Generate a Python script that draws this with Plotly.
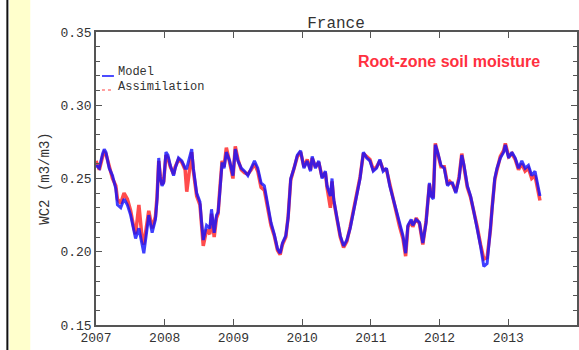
import plotly.graph_objects as go

# decimal-year time axis
t = [2007.000, 2007.048, 2007.096, 2007.120, 2007.144, 2007.192, 2007.240, 2007.288, 2007.312, 2007.360,
     2007.408, 2007.456, 2007.504, 2007.552, 2007.576, 2007.624, 2007.672, 2007.696, 2007.744, 2007.768,
     2007.817, 2007.865, 2007.889, 2007.913, 2007.937, 2007.961, 2007.985, 2008.018, 2008.047, 2008.081,
     2008.129, 2008.153, 2008.201, 2008.249, 2008.297,
     2008.321, 2008.393, 2008.417, 2008.465, 2008.513, 2008.537, 2008.561, 2008.609, 2008.657, 2008.681,
     2008.720, 2008.753, 2008.777, 2008.801, 2008.835, 2008.864, 2008.897, 2008.945, 2008.993, 2009.027,
     2009.066, 2009.114, 2009.162, 2009.210, 2009.258, 2009.306, 2009.354, 2009.402, 2009.450, 2009.498,
     2009.546,
     2009.594, 2009.642, 2009.680, 2009.714, 2009.762, 2009.796, 2009.834, 2009.882, 2009.930, 2009.978,
     2010.026, 2010.074, 2010.122, 2010.146, 2010.194, 2010.242, 2010.290, 2010.338, 2010.362, 2010.411,
     2010.435, 2010.459, 2010.507, 2010.555, 2010.603, 2010.651, 2010.699, 2010.747, 2010.795, 2010.843,
     2010.891,
     2010.939, 2010.987, 2011.035, 2011.083, 2011.131, 2011.179, 2011.227, 2011.275, 2011.323, 2011.371,
     2011.419, 2011.467, 2011.506, 2011.539, 2011.587, 2011.611, 2011.659, 2011.708, 2011.756, 2011.804,
     2011.852, 2011.876, 2011.909, 2011.938, 2011.972, 2012.020, 2012.068, 2012.116, 2012.149, 2012.188,
     2012.236, 2012.284, 2012.323, 2012.356, 2012.404, 2012.452, 2012.500, 2012.548, 2012.596, 2012.644,
     2012.692, 2012.740, 2012.764, 2012.803, 2012.836, 2012.884, 2012.932, 2012.957, 2013.005, 2013.053,
     2013.101, 2013.149, 2013.197, 2013.245, 2013.293, 2013.341, 2013.389, 2013.428, 2013.461]

model = [0.259, 0.257, 0.267, 0.270, 0.268, 0.257, 0.252, 0.243, 0.232, 0.230,
         0.236, 0.232, 0.225, 0.213, 0.209, 0.216, 0.204, 0.199, 0.216, 0.225,
         0.213, 0.222, 0.236, 0.264, 0.250, 0.245, 0.247, 0.268, 0.266, 0.259,
         0.252, 0.257, 0.264, 0.262, 0.257,
         0.257, 0.270, 0.257, 0.240, 0.234, 0.220, 0.208, 0.218, 0.216, 0.229,
         0.213, 0.225, 0.227, 0.240, 0.261, 0.257, 0.268, 0.262, 0.252, 0.270,
         0.262, 0.257, 0.255, 0.252, 0.257, 0.262, 0.257, 0.247, 0.245, 0.232,
         0.220,
         0.212, 0.202, 0.199, 0.206, 0.211, 0.223, 0.250, 0.257, 0.266, 0.269,
         0.257, 0.262, 0.255, 0.265, 0.257, 0.262, 0.250, 0.255, 0.245, 0.238,
         0.250, 0.236, 0.223, 0.211, 0.204, 0.208, 0.216, 0.227, 0.240, 0.250,
         0.268,
         0.264, 0.262, 0.255, 0.257, 0.263, 0.255, 0.257, 0.245, 0.236, 0.227,
         0.218, 0.211, 0.199, 0.218, 0.222, 0.218, 0.222, 0.220, 0.206, 0.220,
         0.247, 0.238, 0.236, 0.273, 0.268, 0.259, 0.257, 0.245, 0.247, 0.247,
         0.240, 0.250, 0.266, 0.259, 0.245, 0.238, 0.227, 0.216, 0.204, 0.190,
         0.192, 0.216, 0.229, 0.250, 0.257, 0.264, 0.268, 0.273, 0.264, 0.268,
         0.264, 0.257, 0.262, 0.257, 0.259, 0.252, 0.255, 0.245, 0.238]

assimilation = [0.262, 0.256, 0.265, 0.268, 0.267, 0.258, 0.250, 0.245, 0.236, 0.233,
                0.240, 0.236, 0.228, 0.216, 0.212, 0.232, 0.209, 0.205, 0.218, 0.228,
                0.216, 0.224, 0.238, 0.262, 0.251, 0.246, 0.248, 0.266, 0.264, 0.258,
                0.253, 0.258, 0.263, 0.261, 0.256,
                0.241, 0.268, 0.255, 0.238, 0.232, 0.218, 0.204, 0.215, 0.212, 0.226,
                0.210, 0.223, 0.226, 0.242, 0.262, 0.258, 0.271, 0.261, 0.250, 0.272,
                0.263, 0.256, 0.254, 0.253, 0.256, 0.260, 0.255, 0.244, 0.242, 0.230,
                0.218,
                0.211, 0.201, 0.198, 0.205, 0.210, 0.224, 0.249, 0.258, 0.265, 0.268,
                0.258, 0.263, 0.256, 0.264, 0.258, 0.261, 0.251, 0.254, 0.244, 0.230,
                0.248, 0.235, 0.222, 0.210, 0.203, 0.207, 0.217, 0.228, 0.241, 0.251,
                0.267,
                0.265, 0.263, 0.256, 0.258, 0.262, 0.256, 0.256, 0.246, 0.237, 0.226,
                0.217, 0.209, 0.197, 0.217, 0.221, 0.217, 0.223, 0.219, 0.205, 0.221,
                0.246, 0.239, 0.237, 0.274, 0.267, 0.258, 0.258, 0.246, 0.248, 0.246,
                0.241, 0.251, 0.267, 0.258, 0.244, 0.237, 0.228, 0.217, 0.205, 0.195,
                0.196, 0.215, 0.230, 0.249, 0.256, 0.265, 0.269, 0.274, 0.265, 0.267,
                0.263, 0.256, 0.260, 0.255, 0.257, 0.250, 0.252, 0.242, 0.235]

year_ticks = [2007, 2008, 2009, 2010, 2011, 2012, 2013]
year_labels = ["2007", "2008", "2009", "2010", "2011", "2012", "2013"]
y_ticks = [0.15, 0.20, 0.25, 0.30, 0.35]
y_labels = ["0.15", "0.20", "0.25", "0.30", "0.35"]

MONO = "Liberation Mono"
TXT = "#333333"

fig = go.Figure()
fig.add_trace(go.Scatter(x=t, y=assimilation, mode="lines", name="Assimilation",
                         line=dict(color="#ff2020", width=3.5), opacity=0.8, showlegend=False))
fig.add_trace(go.Scatter(x=t, y=model, mode="lines", name="Model",
                         line=dict(color="#1010ff", width=3), opacity=0.8, showlegend=False))

axis_common = dict(showline=True, linecolor="#555555", linewidth=1.5, mirror="allticks",
                   ticks="inside", tickcolor="#555555", tickwidth=1.2, ticklen=6,
                   showgrid=False, zeroline=False,
                   tickfont=dict(family=MONO, size=13, color=TXT))

fig.update_xaxes(range=[2007, 2014], tickmode="array", tickvals=year_ticks, ticktext=year_labels,
                 **axis_common)
fig.update_yaxes(range=[0.15, 0.35], tickmode="array", tickvals=y_ticks, ticktext=y_labels,
                 minor=dict(dtick=0.01, ticks="inside", ticklen=4, tickcolor="#555555", tickwidth=1),
                 title=dict(text="WC2 (m3/m3)", font=dict(family=MONO, size=14, color=TXT), standoff=8),
                 **axis_common)

# left-hand decoration: black rule and pale-yellow band
shapes = [
    dict(type="rect", xref="paper", yref="paper", x0=(9 - 96) / 483, x1=(30 - 96) / 483,
         y0=-0.2, y1=1.2, fillcolor="#ffffcc", line=dict(width=0), layer="below"),
    dict(type="line", xref="paper", yref="paper", x0=(7 - 96) / 483, x1=(7 - 96) / 483,
         y0=-0.2, y1=1.2, line=dict(color="#111111", width=2)),
    # legend samples
    dict(type="line", xref="paper", yref="paper", x0=6 / 483, x1=18 / 483,
         y0=(325 - 76) / 293, y1=(325 - 76) / 293, line=dict(color="#1010ff", width=1.5)),
    dict(type="line", xref="paper", yref="paper", x0=6 / 483, x1=18 / 483,
         y0=(325 - 90) / 293, y1=(325 - 90) / 293, line=dict(color="#ff8080", width=1.5, dash="dot")),
]

annotations = [
    dict(text="Model", xref="paper", yref="paper", x=20 / 483, y=(325 - 72) / 293,
         xanchor="left", yanchor="middle", showarrow=False,
         font=dict(family=MONO, size=12, color=TXT)),
    dict(text="Assimilation", xref="paper", yref="paper", x=20 / 483, y=(325 - 87) / 293,
         xanchor="left", yanchor="middle", showarrow=False,
         font=dict(family=MONO, size=12, color=TXT)),
    dict(text="<b>Root-zone soil moisture</b>", xref="paper", yref="paper",
         x=(450 - 96) / 483, y=(325 - 62) / 293, xanchor="center", yanchor="middle", showarrow=False,
         font=dict(family="Liberation Sans", size=16, color="#ff3040")),
]

fig.update_layout(
    width=579, height=350,
    margin=dict(l=96, r=0, t=32, b=25),
    paper_bgcolor="white", plot_bgcolor="white",
    title=dict(text="France", x=(336 / 579), xanchor="center", y=1 - 22 / 350, yanchor="middle",
               font=dict(family=MONO, size=16, color=TXT)),
    shapes=shapes, annotations=annotations, showlegend=False,
)

fig.write_html("out.html")
